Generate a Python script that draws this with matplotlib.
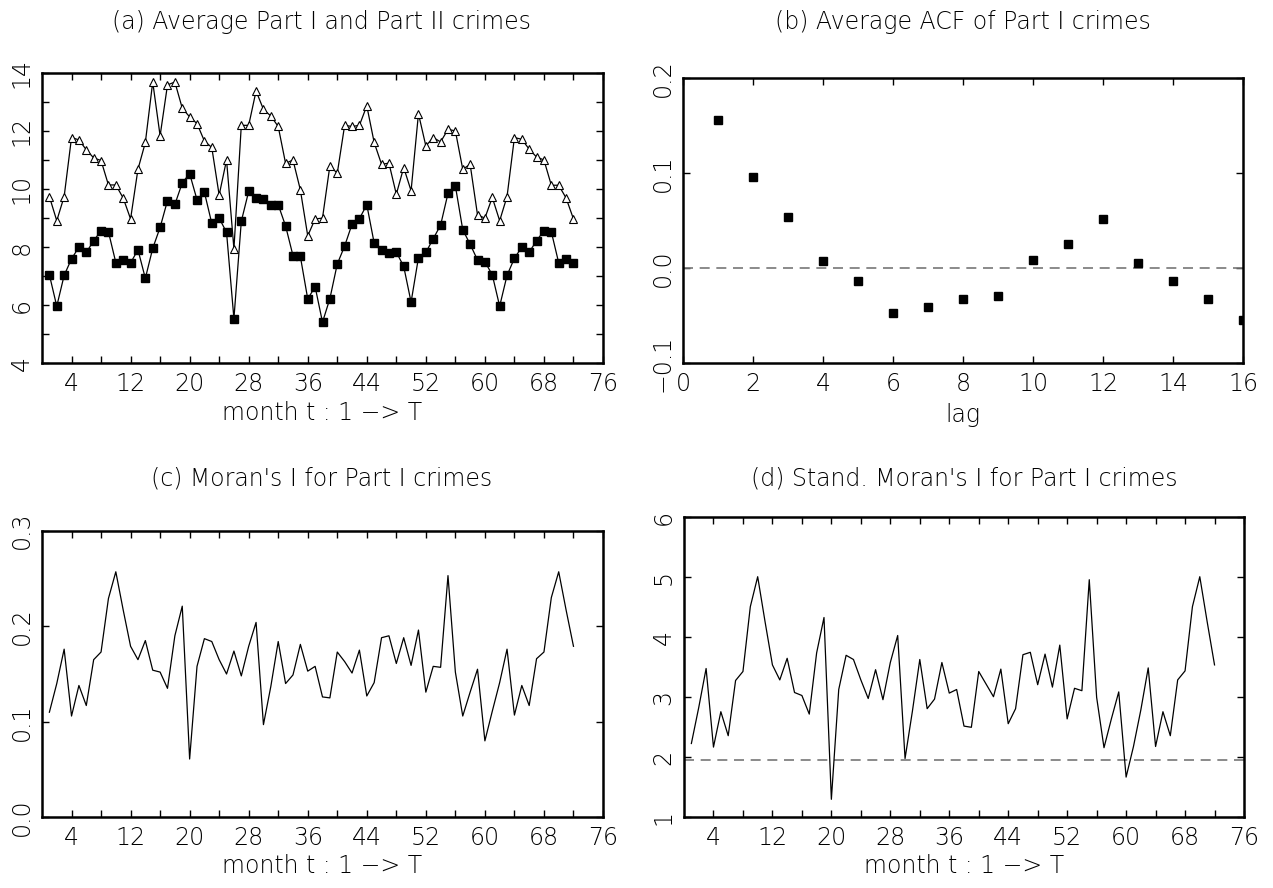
import numpy as np
import matplotlib
matplotlib.use("Agg")
import matplotlib.pyplot as plt

plt.rcParams['font.family'] = ['DejaVu Sans']
plt.rcParams['font.weight'] = 200
plt.rcParams['axes.unicode_minus'] = True

# ---- data ----
months = np.arange(1, 73)

part2 = [9.74, 8.91, 9.74, 11.77, 11.69, 11.35, 11.07, 10.98, 10.14, 10.14, 9.69, 8.97,
         10.68, 11.6, 13.68, 11.83, 13.58, 13.68, 12.78, 12.48, 12.25, 11.65, 11.43, 9.79,
         11.0, 7.94, 12.19, 12.19, 13.37, 12.74, 12.51, 12.15, 10.88, 11.0, 9.97, 8.39,
         8.97, 9.0, 10.8, 10.54, 12.19, 12.15, 12.19, 12.86, 11.6, 10.85, 10.89, 9.82,
         10.74, 9.94, 12.59, 11.48, 11.77, 11.62, 12.05, 12.0, 10.68, 10.85, 9.11, 9.0,
         9.71, 8.91, 9.74, 11.77, 11.71, 11.37, 11.1, 11.0, 10.13, 10.13, 9.69, 8.97]

part1 = [7.05, 5.97, 7.03, 7.6, 8.0, 7.82, 8.22, 8.57, 8.53, 7.47, 7.57, 7.46,
         7.91, 6.93, 7.96, 8.68, 9.6, 9.47, 10.21, 10.53, 9.63, 9.89, 8.82, 9.0,
         8.51, 5.54, 8.89, 9.92, 9.68, 9.65, 9.45, 9.46, 8.73, 7.71, 7.68, 6.22,
         6.64, 5.42, 6.23, 7.42, 8.04, 8.79, 8.98, 9.46, 8.14, 7.91, 7.8, 7.83,
         7.34, 6.11, 7.64, 7.82, 8.29, 8.76, 9.85, 10.11, 8.6, 8.1, 7.56, 7.5,
         7.05, 5.97, 7.03, 7.62, 8.0, 7.83, 8.22, 8.57, 8.53, 7.46, 7.59, 7.44]

lags = np.arange(1, 17)
acf = [0.1557, 0.096, 0.0545, 0.008, -0.0136, -0.0471, -0.0408, -0.0325,
       -0.0286, 0.0091, 0.0255, 0.0517, 0.0059, -0.0129, -0.0321, -0.0545]

moran = [0.110, 0.140, 0.176, 0.106, 0.138, 0.117, 0.165, 0.173, 0.229, 0.257, 0.217, 0.179,
         0.165, 0.185, 0.154, 0.152, 0.135, 0.190, 0.221, 0.061, 0.158, 0.187, 0.184, 0.165,
         0.150, 0.174, 0.148, 0.179, 0.204, 0.097, 0.137, 0.184, 0.140, 0.149, 0.181, 0.153,
         0.158, 0.126, 0.125, 0.173, 0.163, 0.151, 0.175, 0.127, 0.141, 0.188, 0.190, 0.161,
         0.188, 0.159, 0.196, 0.131, 0.158, 0.157, 0.253, 0.152, 0.106, 0.131, 0.155, 0.080,
         0.111, 0.141, 0.176, 0.107, 0.138, 0.117, 0.166, 0.173, 0.230, 0.257, 0.217, 0.179]

moran_std = [2.23, 2.83, 3.48, 2.17, 2.76, 2.36, 3.28, 3.43, 4.51, 5.01, 4.26, 3.54,
             3.29, 3.65, 3.08, 3.03, 2.72, 3.74, 4.33, 1.30, 3.13, 3.70, 3.63, 3.29,
             2.98, 3.46, 2.96, 3.58, 4.03, 1.98, 2.77, 3.63, 2.81, 2.97, 3.58, 3.07,
             3.13, 2.52, 2.50, 3.43, 3.22, 3.01, 3.47, 2.56, 2.81, 3.71, 3.75, 3.21,
             3.72, 3.17, 3.87, 2.64, 3.15, 3.11, 4.96, 3.00, 2.16, 2.64, 3.09, 1.67,
             2.18, 2.79, 3.49, 2.18, 2.76, 2.36, 3.29, 3.44, 4.51, 5.01, 4.26, 3.54]

month_ticks = list(range(4, 77, 4))
month_labels = [str(m) if (m - 4) % 8 == 0 else '' for m in month_ticks]

FS = 17
W, H = 1273, 888
fig = plt.figure(figsize=(W / 100, H / 100), dpi=100)


def px_axes(l, t, r, b):
    return fig.add_axes([l / W, 1 - b / H, (r - l) / W, (b - t) / H])


def px_text(x, y, s):
    fig.text(x / W, 1 - y / H, s, ha='center', va='center', fontsize=FS)


def style(ax):
    for s in ax.spines.values():
        s.set_linewidth(1.8)
    ax.tick_params(direction='in', length=5, width=1, top=True, right=True,
                   labelsize=FS, pad=6)
    for lab in ax.get_yticklabels():
        lab.set_rotation(90)
        lab.set_va('center')


def month_axis(ax):
    ax.set_xlim(0, 76)
    ax.set_xticks(month_ticks)
    ax.set_xticklabels(month_labels)


# (a)
ax = px_axes(42, 72.7, 603, 363.5)
ax.plot(months, part2, color='black', lw=0.9, marker='^', ms=5.5,
        mfc='white', mec='black', mew=0.8)
ax.plot(months, part1, color='black', lw=0.9, marker='s', ms=6.3,
        mfc='black', mec='black')
month_axis(ax)
ax.set_ylim(4, 14)
ax.set_yticks(range(4, 15))
ax.set_yticklabels([str(v) if v % 2 == 0 else '' for v in range(4, 15)])
style(ax)
px_text(322, 22, '(a) Average Part I and Part II crimes')
px_text(322, 413, 'month t : 1 \u2212> T')

# (b)
ax = px_axes(683.3, 78.3, 1243.3, 363.5)
ax.axhline(0, color='#777777', lw=1.2, dashes=(6, 4))
ax.plot(lags, acf, ls='none', marker='s', ms=6.3, color='black')
ax.set_xlim(0, 16)
ax.set_xticks(range(0, 17, 2))
ax.set_ylim(-0.1, 0.2)
ax.set_yticks([-0.1, 0.0, 0.1, 0.2])
ax.set_yticklabels(['\u22120.1', '0.0', '0.1', '0.2'])
style(ax)
px_text(963, 22, '(b) Average ACF of Part I crimes')
px_text(963, 415, 'lag')

# (c)
ax = px_axes(42, 530.7, 603, 817.3)
ax.plot(months, moran, color='black', lw=0.9)
month_axis(ax)
ax.set_ylim(0, 0.3)
ax.set_yticks([0.0, 0.1, 0.2, 0.3])
ax.set_yticklabels(['0.0', '0.1', '0.2', '0.3'])
style(ax)
px_text(322, 478, "(c) Moran's I for Part I crimes")
px_text(322, 866, 'month t : 1 \u2212> T')

# (d)
ax = px_axes(684, 517.3, 1244, 817.3)
ax.axhline(1.96, color='#777777', lw=1.2, dashes=(6, 4))
ax.plot(months, moran_std, color='black', lw=0.9)
month_axis(ax)
ax.set_ylim(1, 6)
ax.set_yticks(range(1, 7))
style(ax)
px_text(964, 478, "(d) Stand. Moran's I for Part I crimes")
px_text(964, 866, 'month t : 1 \u2212> T')

fig.savefig('out.png', dpi=100)
